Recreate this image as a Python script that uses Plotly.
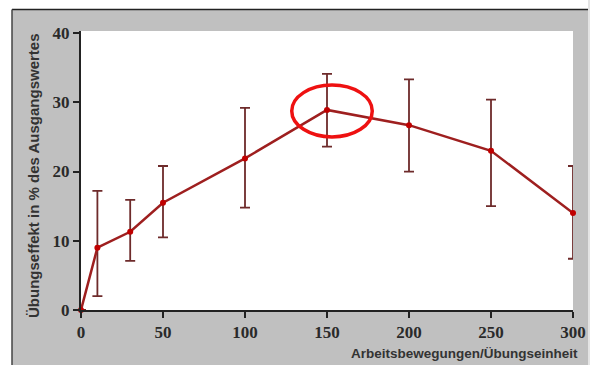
import plotly.graph_objects as go

# Data
x_vals = [0, 10, 30, 50, 100, 150, 200, 250, 300]
y_vals = [0, 9.0, 11.3, 15.5, 21.9, 28.9, 26.7, 23.0, 14.0]
err_plus = [0, 8.2, 4.6, 5.3, 7.3, 5.2, 6.6, 7.4, 6.8]
err_minus = [0, 7.0, 4.2, 5.0, 7.1, 5.3, 6.7, 8.0, 6.6]
x_ticks = [0, 50, 100, 150, 200, 250, 300]
y_ticks = [0, 10, 20, 30, 40]
x_title = "Arbeitsbewegungen/Übungseinheit"
y_title = "Übungseffekt in % des Ausgangswertes"

W, H = 590, 365
L, R, T, B = 81, 17, 31, 55
pw, ph = W - L - R, H - T - B

def px(xp):
    return (xp - L) / pw

def py(yp):
    return (H - B - yp) / ph

fig = go.Figure()
fig.add_trace(go.Scatter(
    x=x_vals, y=y_vals, mode="lines+markers",
    line=dict(color="#9e1f1f", width=2.5),
    marker=dict(color="#c00000", size=6),
    error_y=dict(type="data", symmetric=False, array=err_plus, arrayminus=err_minus,
                 color="#6e2b2b", thickness=1.8, width=5),
    cliponaxis=False, showlegend=False,
))

tickfont = dict(family="Liberation Sans Narrow", size=17, color="#2a2a2a", weight="bold")
fig.update_xaxes(range=[0, 300], tickvals=x_ticks, showgrid=False, zeroline=False,
                 showline=True, linecolor="#222", linewidth=2, ticks="outside",
                 ticklen=6, tickwidth=2, tickcolor="#222", tickfont=tickfont,
                 automargin=False)
fig.update_yaxes(range=[0, 40.3], tickvals=y_ticks, showgrid=False, zeroline=False,
                 showline=True, linecolor="#222", linewidth=2, ticks="outside",
                 ticklen=6, tickwidth=2, tickcolor="#222", tickfont=tickfont,
                 automargin=False)

shapes = [
    # white strips outside the grey frame
    dict(type="rect", xref="paper", yref="paper", x0=px(-5), x1=px(12), y0=py(370), y1=py(-5),
         fillcolor="white", line_width=0, layer="above"),
    dict(type="rect", xref="paper", yref="paper", x0=px(-5), x1=px(595), y0=py(9), y1=py(-5),
         fillcolor="white", line_width=0, layer="above"),
    dict(type="rect", xref="paper", yref="paper", x0=px(588), x1=px(595), y0=py(370), y1=py(-5),
         fillcolor="#e4e4e4", line_width=0, layer="above"),
    # black frame lines
    dict(type="line", xref="paper", yref="paper", x0=px(12), x1=px(588), y0=py(9.5), y1=py(9.5),
         line=dict(color="#222", width=1.5), layer="above"),
    dict(type="line", xref="paper", yref="paper", x0=px(12), x1=px(12), y0=py(9.5), y1=py(370),
         line=dict(color="#444", width=1.5), layer="above"),
    # red highlight ellipse
    dict(type="circle", xref="x", yref="y", x0=128.5, x1=177.6, y0=25.0, y1=32.5,
         line=dict(color="#ee1111", width=3.5), layer="above"),
]

annotations = [
    dict(text=y_title, xref="paper", yref="paper", x=px(33), y=py(176), textangle=-90,
         xanchor="center", yanchor="middle", showarrow=False,
         font=dict(family="Liberation Sans", size=15, color="#333")),
    dict(text=x_title, xref="paper", yref="paper", x=px(580), y=py(353),
         xanchor="right", yanchor="middle", showarrow=False,
         font=dict(family="Liberation Sans", size=13.5, color="#333")),
]

fig.update_layout(
    width=W, height=H, autosize=False, margin=dict(l=L, r=R, t=T, b=B),
    paper_bgcolor="#c0c0c0", plot_bgcolor="white",
    shapes=shapes, annotations=annotations,
)
fig.update_annotations(font_weight="bold")

fig.write_html(
    "out.html",
    config={"displayModeBar": False, "responsive": False},
    post_script="document.body.style.margin='0';document.body.style.padding='0';document.body.style.overflow='hidden';",
)
